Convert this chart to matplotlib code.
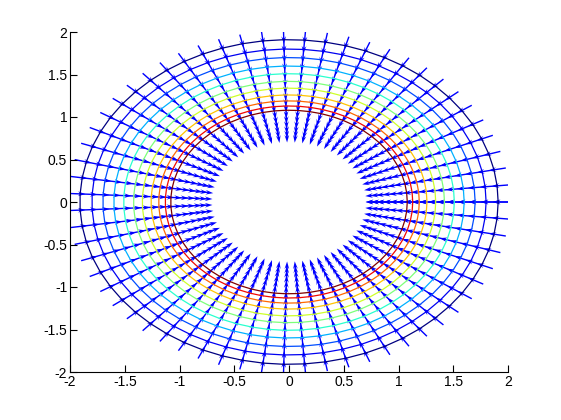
import numpy as np
import matplotlib
matplotlib.use('Agg')
import matplotlib.pyplot as plt

# polar grid: 64 angles (0 and 2*pi both present, like the original)
n_theta = 64
# radii of arrow tails and heads (data units)
tail_r = [2.02, 1.90, 1.79, 1.68, 1.58, 1.48, 1.39, 1.31, 1.23, 1.16, 1.09, 1.02, 0.96, 0.90, 0.85, 0.80]
head_r = [1.86, 1.75, 1.64, 1.54, 1.44, 1.35, 1.27, 1.19, 1.12, 1.05, 0.98, 0.92, 0.86, 0.80, 0.75, 0.70]
# radii of the contour rings, inner (red) to outer (navy)
contour_r = [1.08, 1.13, 1.19, 1.26, 1.34, 1.42, 1.51, 1.60, 1.70, 1.80, 1.91]

def main():
    theta = np.linspace(0, 2 * np.pi, n_theta)
    TH, R = np.meshgrid(theta, np.array(tail_r))
    _, RH = np.meshgrid(theta, np.array(head_r))
    X = R * np.cos(TH)
    Y = R * np.sin(TH)
    U = (RH - R) * np.cos(TH)
    V = (RH - R) * np.sin(TH)

    fig = plt.figure(figsize=(5.61, 4.2), dpi=100)
    ax = fig.add_axes([70 / 561, 48 / 420, 438 / 561, 340 / 420])

    # contour colours: jet, red inside -> navy outside
    cols = [plt.cm.jet(v) for v in np.linspace(0, 1, len(contour_r))][::-1]
    ax.contour(X, Y, R, levels=contour_r, colors=cols, linewidths=0.9)

    ax.quiver(X, Y, U, V, color=(0, 0, 1), angles='xy', scale_units='xy', scale=1,
              width=0.0032, headwidth=3.4, headlength=5.5, headaxislength=4.0)

    ax.set_xlim(-2, 2)
    ax.set_ylim(-2, 2)
    ticks = [-2, -1.5, -1, -0.5, 0, 0.5, 1, 1.5, 2]
    labels = ['-2', '-1.5', '-1', '-0.5', '0', '0.5', '1', '1.5', '2']
    ax.set_xticks(ticks)
    ax.set_xticklabels(labels)
    ax.set_yticks(ticks)
    ax.set_yticklabels(labels)
    ax.spines['top'].set_visible(False)
    ax.spines['right'].set_visible(False)
    ax.tick_params(direction='in', length=5, width=0.8, labelsize=10, pad=2)
    for lab in ax.get_xticklabels() + ax.get_yticklabels():
        lab.set_family('Liberation Sans')

    fig.savefig('out.png', dpi=100)

if __name__ == '__main__':
    main()
